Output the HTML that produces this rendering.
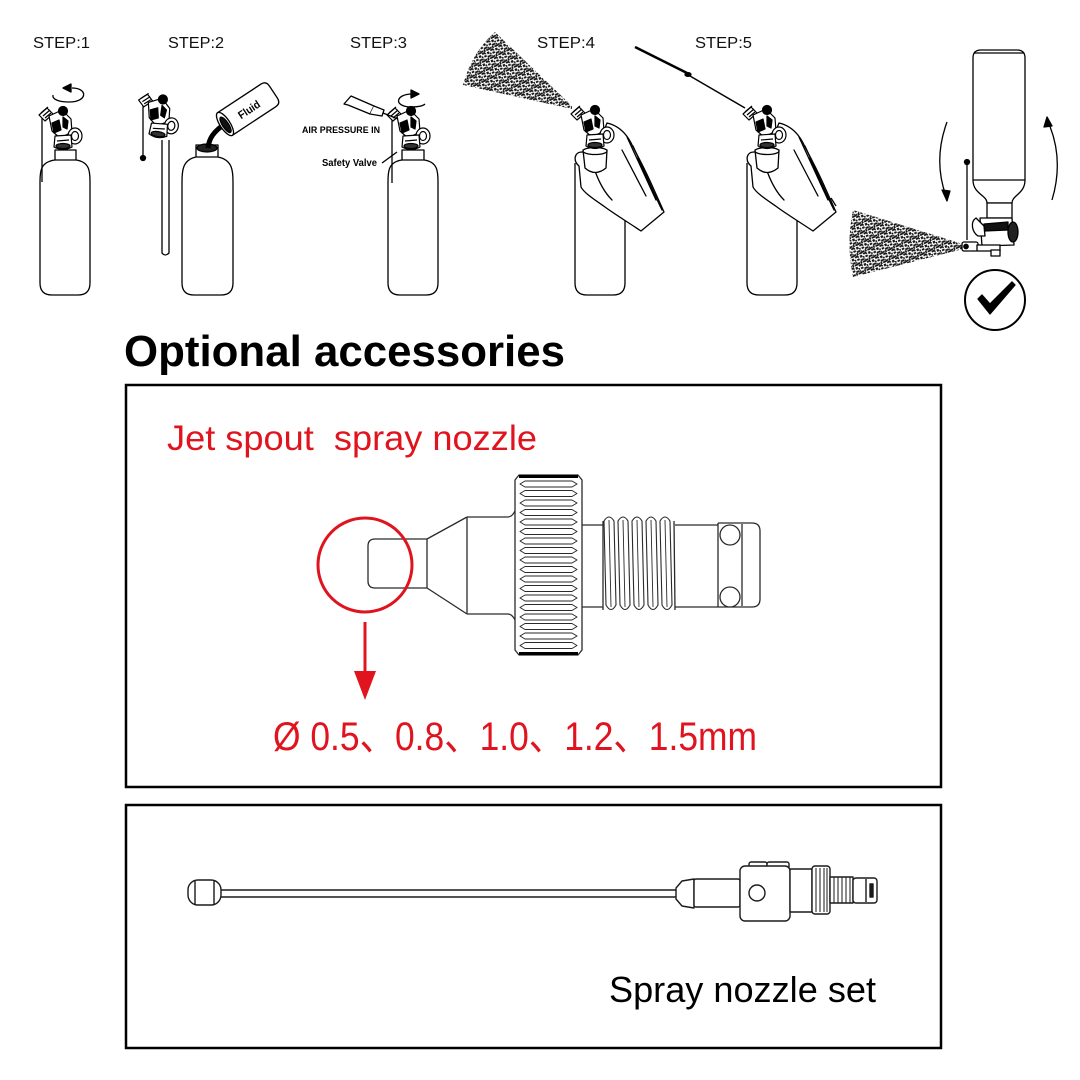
<!DOCTYPE html>
<html>
<head>
<meta charset="utf-8">
<style>
html,body{margin:0;padding:0;background:#fff;}
svg{display:block;}
</style>
</head>
<body>
<svg width="1080" height="1080" viewBox="0 0 1080 1080" xmlns="http://www.w3.org/2000/svg">
<defs>
  <pattern id="sp" width="9" height="9" patternUnits="userSpaceOnUse" patternTransform="rotate(-25)">
    <g fill="#151515">
      <rect x="0" y="0" width="3.5" height="1.8"/>
      <rect x="5" y="1" width="2.4" height="2.4"/>
      <rect x="7.5" y="3" width="1.5" height="1.8"/>
      <rect x="1" y="3.2" width="2.6" height="1.9"/>
      <rect x="4" y="4.8" width="3.5" height="1.8"/>
      <rect x="0" y="6.8" width="2.5" height="1.8"/>
      <rect x="5.5" y="7.2" width="3.5" height="1.8"/>
      <rect x="3" y="6.5" width="1.7" height="2.5"/>
      <rect x="7.8" y="5.5" width="1.2" height="1.5"/>
      <rect x="2.5" y="1.2" width="1.5" height="1.2"/>
    </g>
  </pattern>
  <g id="valve" stroke="#000" stroke-width="1.2" stroke-linejoin="round">
    <path d="M1,10 L9,3 L15,9 L7,16 Z" fill="#fff"/>
    <path d="M3,8 L10,2 M5,11 L12,5 M7,13 L13,8" fill="none"/>
    <path d="M11,11 L24,5 L33,14 L34,27 L22,33 L14,26 Z" fill="#fff"/>
    <circle cx="25" cy="6" r="4.5" fill="#000"/>
    <path d="M14,18 L21,15 L23,25 L16,28 Z" fill="#000"/>
    <path d="M25,12 L30,16 L29,24 L25,22Z" fill="#000"/>
    <ellipse cx="37" cy="31" rx="7" ry="8" fill="#fff"/>
    <ellipse cx="37" cy="31" rx="3.5" ry="4.5" fill="#fff"/>
    <path d="M17,31 L33,30 L34,42 Q25,47 16,42 Z" fill="#fff"/>
    <path d="M19,36 L31,35" fill="none"/>
    <ellipse cx="25" cy="41" rx="7" ry="2.5" fill="#333"/>
  </g>
  <g id="hand" stroke="#000" stroke-width="1.3" stroke-linejoin="round" stroke-linecap="round">
    <path d="M607,123 C616,125 626,131 633,147 C640,160 646,172 651,183 L664,212 L641,231 C626,221 613,213 605,207 C595,200 584,193 581,187 L579,166 C573,161 574,152 582,152 C588,152 592,158 594,165 L600,140 Z" fill="#fff"/>
    <path d="M627,137 L656,200 M633,146 L660,206 M638,158 L662,210 M622,150 L646,196" fill="none"/>
    <path d="M594,168 C598,180 604,192 612,200" fill="none"/>
    <path d="M583,150 L585,168 Q595,177 606,168 L607,150 Z" fill="#fff"/>
    <ellipse cx="595" cy="151" rx="12" ry="3.5" fill="#fff"/>
  </g>
</defs>

<!-- STEP labels -->
<g font-family="'Liberation Sans', sans-serif" font-size="16" fill="#111">
  <text x="33" y="48" textLength="57" lengthAdjust="spacingAndGlyphs">STEP:1</text>
  <text x="168" y="48" textLength="56" lengthAdjust="spacingAndGlyphs">STEP:2</text>
  <text x="350" y="48" textLength="57" lengthAdjust="spacingAndGlyphs">STEP:3</text>
  <text x="537" y="48" textLength="58" lengthAdjust="spacingAndGlyphs">STEP:4</text>
  <text x="695" y="48" textLength="57" lengthAdjust="spacingAndGlyphs">STEP:5</text>
</g>

<g stroke="#000" stroke-width="1.3" fill="none" stroke-linejoin="round">
  <!-- Step 1 -->
  <path d="M55,150 L76,150 L76,160 C90,162 90,172 90,182 L90,283 Q90,295 78,295 L52,295 Q40,295 40,283 L40,182 C40,172 40,162 55,160 Z" fill="#fff"/>
  <path d="M55,160 L76,160"/>
  <path d="M42,117 L42,182"/>
  <use href="#valve" x="38" y="105"/>
  <path d="M72,88 C88,88 88,102 69,102 C58,102 52,99 53,95"/>
  <path d="M63,88 L71,84 L71,92 Z" fill="#000"/>

  <!-- Step 2 -->
  <path d="M196,145 L218,145 L218,157 C233,160 233,172 233,182 L233,283 Q233,295 221,295 L194,295 Q182,295 182,283 L182,182 C182,172 182,160 196,157 Z" fill="#fff"/>
  <ellipse cx="207" cy="148" rx="10" ry="4" fill="#222"/>
  <path d="M196,157 L218,157"/>
  <path d="M162,140 L162,253 Q165,257 169,253 L169,140"/>
  <path d="M143,97 L143,157"/>
  <circle cx="143" cy="158" r="2.5" fill="#000"/>
  <use href="#valve" x="0" y="0" transform="translate(139,90) rotate(8)"/>
  <path d="M222,126 C214,132 209,138 208,148" stroke-width="5"/>
  <g transform="translate(225,124) rotate(-33.4)">
    <path d="M0,-13.5 L52,-13.5 Q58,-13.5 58,-7 L58,7 Q58,13.5 52,13.5 L0,13.5" fill="#fff"/>
    <ellipse cx="0" cy="0" rx="5" ry="13.5" fill="#fff"/>
    <ellipse cx="0" cy="1" rx="3" ry="9" fill="#111"/>
    <text x="16" y="5" font-family="'Liberation Sans', sans-serif" font-size="11" font-weight="bold" fill="#000" stroke="none" textLength="24" lengthAdjust="spacingAndGlyphs">Fluid</text>
  </g>

  <!-- Step 3 -->
  <path d="M402,150 L424,150 L424,160 C438,162 438,172 438,182 L438,283 Q438,295 426,295 L400,295 Q388,295 388,283 L388,182 C388,172 388,162 402,160 Z" fill="#fff"/>
  <path d="M402,160 L424,160"/>
  <path d="M392,120 L392,183"/>
  <use href="#valve" x="386" y="105"/>
  <path d="M344,104 L351,96 L374,106 L370,114 L348,105 Z" fill="#fff"/>
  <path d="M374,106 L384,110 L382,116 L370,114" fill="#fff"/>
  <path d="M383,113 L398,119"/>
  <path d="M412,94 C396,94 393,106 410,107 C418,107 423,106 425,104"/>
  <path d="M419,94 L411,90 L411,98 Z" fill="#000"/>
  <path d="M382,163 L397,152"/>

  <!-- Step 4 -->
  <path d="M575,163 L575,283 Q575,295 587,295 L613,295 Q625,295 625,283 L625,170" fill="#fff"/>
  <path d="M572,106 L495,32 Q472,52 463,85 L572,109 Z" fill="url(#sp)" stroke="none"/>
  <use href="#hand"/>
  <use href="#valve" x="570" y="104"/>

  <!-- Step 5 -->
  <path d="M747,163 L747,283 Q747,295 759,295 L785,295 Q797,295 797,283 L797,170" fill="#fff"/>
  <path d="M635,47 L687,73" stroke-width="2.5"/>
  <path d="M690,76 L745,108" stroke-width="1.5"/>
  <ellipse cx="688" cy="74.5" rx="3" ry="1.8" fill="#000"/>
  <use href="#hand" x="172"/>
  <use href="#valve" x="742" y="104"/>

  <!-- Right inverted figure -->
  <path d="M973,58 Q973,50 981,50 L1017,50 Q1025,50 1025,58 L1025,180 C1025,194 1012,195 1012,203 L987,203 C987,195 973,194 973,180 Z" fill="#fff"/>
  <path d="M974,53 L1024,53 M973,180 L1025,180"/>
  <rect x="987" y="203" width="25" height="15" fill="#fff"/>
  <path d="M853,210 L963,244 L963,249 L853,277 Q846,244 853,210 Z" fill="url(#sp)" stroke="none"/>
  <path d="M967,163 L967,240"/>
  <circle cx="967" cy="162" r="2.5" fill="#000"/>
  <path d="M980,218 L1012,218 L1014,245 L982,246 Z" fill="#fff"/>
  <path d="M984,224 L1008,222 L1008,230 L985,231 Z" fill="#111"/>
  <ellipse cx="1013" cy="232" rx="5" ry="10" fill="#222"/>
  <path d="M976,218 C970,222 972,232 978,236 L985,236 L984,226 Z" fill="#fff"/>
  <rect x="962" y="242" width="16" height="9" rx="2" fill="#fff"/>
  <circle cx="966" cy="246.5" r="2.2" fill="#000"/>
  <path d="M977,245 L1000,245 L1000,251 L977,251 Z" fill="#fff"/>
  <rect x="991" y="250" width="9" height="6" fill="#fff"/>
  <path d="M947,122 Q933,160 946,196"/>
  <path d="M942,190 L950,191 L947,201 Z" fill="#000"/>
  <path d="M1049,124 Q1064,160 1052,200"/>
  <path d="M1044,127 L1052,126 L1047,117 Z" fill="#000"/>
  <path d="M831,198 L836,206"/>
  <circle cx="995" cy="300" r="30" stroke-width="2"/>
  <path d="M978,299 L982,295 L990,304 L1012,282 L1015,285 L990,314 Z" fill="#000"/>
</g>

<!-- Title -->
<text x="124" y="366" font-family="'Liberation Sans', sans-serif" font-size="44" font-weight="bold" fill="#000" textLength="441" lengthAdjust="spacingAndGlyphs">Optional accessories</text>

<!-- Box 1 -->
<rect x="126" y="385" width="815" height="402" fill="none" stroke="#000" stroke-width="2.5"/>
<text x="167" y="450" font-family="'Liberation Sans', sans-serif" font-size="35" fill="#e0141e" textLength="370" lengthAdjust="spacingAndGlyphs">Jet spout&#160; spray nozzle</text>

<!-- Nozzle drawing -->
<g stroke="#2a2a2a" stroke-width="1.3" fill="none" stroke-linejoin="round">
  <path d="M427,539 L375,539 Q368,539 368,546 L368,581 Q368,588 375,588 L427,588"/>
  <path d="M427,539 L427,588 M427,539 L467,517 M427,588 L467,614"/>
  <path d="M467,517 L467,614"/>
  <path d="M467,517 L508,517 Q512,517 515,511 M467,614 L508,614 Q512,614 515,620"/>
  <path d="M519,475 L578,475 L582,480 L582,650 L578,655 L519,655 L515,650 L515,480 Z"/>
  <path d="M519,476.5 L578,476.5 M519,653.5 L578,653.5" stroke-width="3" stroke="#000"/>
  <path d="M520,484 L525,481 L572,481 L577,484 L572,487 L525,487 Z
           M520,493.5 L525,490.5 L572,490.5 L577,493.5 L572,496.5 L525,496.5 Z
           M520,503 L525,500 L572,500 L577,503 L572,506 L525,506 Z
           M520,512.5 L525,509.5 L572,509.5 L577,512.5 L572,515.5 L525,515.5 Z
           M520,522 L525,519 L572,519 L577,522 L572,525 L525,525 Z
           M520,531.5 L525,528.5 L572,528.5 L577,531.5 L572,534.5 L525,534.5 Z
           M520,541 L525,538 L572,538 L577,541 L572,544 L525,544 Z
           M520,550.5 L525,547.5 L572,547.5 L577,550.5 L572,553.5 L525,553.5 Z
           M520,560 L525,557 L572,557 L577,560 L572,563 L525,563 Z
           M520,569.5 L525,566.5 L572,566.5 L577,569.5 L572,572.5 L525,572.5 Z
           M520,579 L525,576 L572,576 L577,579 L572,582 L525,582 Z
           M520,588.5 L525,585.5 L572,585.5 L577,588.5 L572,591.5 L525,591.5 Z
           M520,598 L525,595 L572,595 L577,598 L572,601 L525,601 Z
           M520,607.5 L525,604.5 L572,604.5 L577,607.5 L572,610.5 L525,610.5 Z
           M520,617 L525,614 L572,614 L577,617 L572,620 L525,620 Z
           M520,626.5 L525,623.5 L572,623.5 L577,626.5 L572,629.5 L525,629.5 Z
           M520,636 L525,633 L572,633 L577,636 L572,639 L525,639 Z
           M520,645.5 L525,642.5 L572,642.5 L577,645.5 L572,648.5 L525,648.5 Z" stroke-width="1"/>
  <path d="M582,525 L603,525 M582,607 L603,607"/>
  <path d="M603,521 L603,610"/>
  <path d="M604,521 Q609,513 614,521 L616,605 Q611,614 606,605 Z
           M618,521 Q623,513 628,521 L630,605 Q625,614 620,605 Z
           M632,521 Q637,513 642,521 L644,605 Q639,614 634,605 Z
           M646,521 Q651,513 656,521 L658,605 Q653,614 648,605 Z
           M660,521 Q665,513 670,521 L672,605 Q667,614 662,605 Z" stroke-width="1.1"/>
  <path d="M609,520 L611,607 M623,520 L625,607 M637,520 L639,607 M651,520 L653,607 M665,520 L667,607" stroke-width="0.9"/>
  <path d="M674,521 L675,610"/>
  <path d="M675,525 L718,525 M675,607 L718,607"/>
  <path d="M718,523 L718,607 M742,524 L742,606"/>
  <path d="M718,523 L752,523 Q760,523 760,531 L760,599 Q760,607 752,607 L718,607"/>
  <circle cx="730" cy="535" r="10" fill="#fff"/>
  <circle cx="730" cy="597" r="10" fill="#fff"/>
</g>

<!-- red callout -->
<circle cx="365" cy="565" r="47" fill="none" stroke="#e0141e" stroke-width="3"/>
<path d="M365,622 L365,676" stroke="#e0141e" stroke-width="3"/>
<path d="M354,671 L376,671 L365,700 Z" fill="#e0141e"/>
<text x="273" y="750" font-family="'Liberation Sans', 'Noto Sans CJK SC', sans-serif" font-size="40" fill="#e0141e" textLength="484" lengthAdjust="spacingAndGlyphs">Ø 0.5、0.8、1.0、1.2、1.5mm</text>

<!-- Box 2 -->
<rect x="126" y="805" width="815" height="243" fill="none" stroke="#000" stroke-width="2.5"/>
<g stroke="#1a1a1a" stroke-width="1.4" fill="#fff" stroke-linejoin="round">
  <rect x="188" y="880" width="33" height="25" rx="10"/>
  <path d="M195,881 L195,904 M214,881 L214,904" fill="none"/>
  <path d="M221,890 L676,890 M221,897 L676,897" fill="none"/>
  <path d="M676,888 L682,881 L694,879 L694,908 L682,906 L676,899 Z"/>
  <rect x="694" y="879" width="46" height="28" rx="2"/>
  <rect x="749" y="862" width="18" height="7" rx="2"/>
  <rect x="767" y="862" width="22" height="7" rx="2"/>
  <rect x="740" y="866" width="50" height="55" rx="5"/>
  <circle cx="757" cy="893" r="8"/>
  <rect x="790" y="869" width="22" height="43"/>
  <rect x="812" y="866" width="18" height="48" rx="3"/>
  <path d="M816,868 L816,912 M820,868 L820,912 M824,868 L824,912 M827,868 L827,912" fill="none" stroke-width="1"/>
  <rect x="830" y="877" width="23" height="26"/>
  <path d="M834,877 L834,903 M838,877 L838,903 M842,877 L842,903 M846,877 L846,903 M850,877 L850,903" fill="none" stroke-width="1"/>
  <rect x="853" y="878" width="24" height="25" rx="3"/>
  <path d="M866,879 L866,902" fill="none"/>
  <rect x="870" y="884" width="3" height="13" fill="#1a1a1a"/>
</g>
<text x="609" y="1002" font-family="'Liberation Sans', sans-serif" font-size="36" fill="#000" textLength="267" lengthAdjust="spacingAndGlyphs">Spray nozzle set</text>

<!-- small labels -->
<text x="302" y="133" font-family="'Liberation Sans', sans-serif" font-size="9.5" font-weight="bold" fill="#000" textLength="78" lengthAdjust="spacingAndGlyphs">AIR PRESSURE IN</text>
<text x="322" y="166" font-family="'Liberation Sans', sans-serif" font-size="10" font-weight="bold" fill="#000" textLength="55" lengthAdjust="spacingAndGlyphs">Safety Valve</text>
</svg>
</body>
</html>
